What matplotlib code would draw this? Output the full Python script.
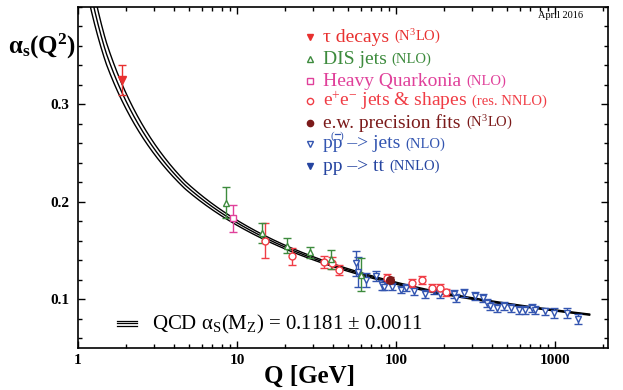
import numpy as np
import matplotlib
matplotlib.use("Agg")
import matplotlib.pyplot as plt
from matplotlib.ticker import MultipleLocator, LogLocator, NullFormatter, FixedLocator, FixedFormatter
from matplotlib.lines import Line2D

plt.rcParams['font.family'] = ['Liberation Serif', 'DejaVu Serif']
plt.rcParams['mathtext.fontset'] = 'custom'
plt.rcParams['mathtext.rm'] = 'Liberation Serif'
plt.rcParams['mathtext.it'] = 'Liberation Serif:italic'
plt.rcParams['mathtext.bf'] = 'Liberation Serif:bold'

# ---------------- data ----------------
tau_q = [1.88]
tau_a = [0.325]
tau_e = [0.015]

dis_q = [8.5, 14.4, 20.6, 28.6, 39.0, 60.0]
dis_a = [0.199, 0.168, 0.155, 0.148, 0.141, 0.125]
dis_e = [0.016, 0.010, 0.008, 0.006, 0.010, 0.017]

hq_q = [9.5]
hq_a = [0.183]
hq_e = [0.014]

ee_q = [15.0, 22.2, 35.0, 39.3, 44.0, 88.0, 126.0, 146.0, 168.0, 188.0, 205.0]
ee_a = [0.160, 0.144, 0.138, 0.137, 0.130, 0.122, 0.117, 0.120, 0.112, 0.112, 0.107]
ee_e = [0.018, 0.009, 0.006, 0.006, 0.005, 0.004, 0.004, 0.004, 0.004, 0.004, 0.004]

ew_q = [91.2]
ew_a = [0.1196]
ew_e = [0.003]

pp_q = [55.9, 58.0, 64.6, 75.3, 82.0, 84.0, 95.0, 107.0, 115.0, 130.0, 153.0, 190.0,
        231.0, 237.0, 266.0, 315.0, 355.0, 375.0, 390.0, 430.0, 475.0, 525.0, 590.0,
        650.0, 720.0, 750.0, 870.0, 985.0, 1190.0, 1400.0]
pp_a = [0.137, 0.128, 0.120, 0.124, 0.115, 0.113, 0.113, 0.110, 0.112, 0.108, 0.105, 0.105,
        0.105, 0.101, 0.1065, 0.103, 0.101, 0.096, 0.093, 0.091, 0.093, 0.091, 0.089,
        0.089, 0.091, 0.089, 0.0875, 0.086, 0.086, 0.080]
pp_e = [0.013, 0.015, 0.007, 0.005, 0.005, 0.004, 0.004, 0.004, 0.004, 0.004, 0.004, 0.004,
        0.004, 0.004, 0.004, 0.004, 0.004, 0.004, 0.004, 0.004, 0.004, 0.004, 0.004,
        0.004, 0.004, 0.004, 0.004, 0.005, 0.005, 0.005]

tt_q = [173.0]
tt_a = [0.108]
tt_e = [0.003]

# QCD band parameters (from the label)
alpha_mz = 0.1181
alpha_err = 0.0011
mz = 91.1876
mc, mb, mt = 1.5, 4.7, 173.0

x_ticks = [1, 10, 100, 1000]
x_ticklabels = ["1", "10", "100", "1000"]
y_ticks = [0.1, 0.2, 0.3]
y_ticklabels = ["0.1", "0.2", "0.3"]

# ---------------- QCD running (4-loop) ----------------
Z3 = 1.2020569

def nf_of(q):
    if q < mc:
        return 3
    if q < mb:
        return 4
    if q < mt:
        return 5
    return 6

def beta(a, nf):
    b0 = (33 - 2 * nf) / (12 * np.pi)
    b1 = (153 - 19 * nf) / (24 * np.pi ** 2)
    b2 = (2857 - 5033 / 9 * nf + 325 / 27 * nf ** 2) / (128 * np.pi ** 3)
    b3 = (149753 / 6 + 3564 * Z3 - (1078361 / 162 + 6508 / 27 * Z3) * nf
          + (50065 / 162 + 6472 / 81 * Z3) * nf ** 2 + 1093 / 729 * nf ** 3) / (256 * np.pi ** 4)
    return -a * a * (b0 + b1 * a + b2 * a * a + b3 * a ** 3)

def run(a0, lnq_grid):
    out = np.empty_like(lnq_grid)
    out[0] = a0
    a = a0
    for i in range(1, len(lnq_grid)):
        h = 2 * (lnq_grid[i] - lnq_grid[i - 1])
        q = np.exp(0.5 * (lnq_grid[i] + lnq_grid[i - 1]))
        nf = nf_of(q)
        k1 = beta(a, nf)
        k2 = beta(a + 0.5 * h * k1, nf)
        k3 = beta(a + 0.5 * h * k2, nf)
        k4 = beta(a + h * k3, nf)
        a = a + h / 6 * (k1 + 2 * k2 + 2 * k3 + k4)
        out[i] = a
    return out

lo = np.linspace(np.log(mz), np.log(1.12), 1500)
hi = np.linspace(np.log(mz), np.log(1650.0), 800)

fig = plt.figure(figsize=(6.23, 3.90), dpi=100)
ax = fig.add_axes([78 / 623, 1 - 348 / 390, 530 / 623, (348 - 6.8) / 390])

for a0 in (alpha_mz - alpha_err, alpha_mz, alpha_mz + alpha_err):
    al = run(a0, lo)
    ah = run(a0, hi)
    qq = np.concatenate([np.exp(lo[::-1]), np.exp(hi[1:])])
    aa = np.concatenate([al[::-1], ah[1:]])
    ax.plot(qq, aa, color='black', lw=1.0, zorder=2)

# ---------------- data points ----------------
c_tau = '#e8302f'
c_dis = '#3d8b3d'
c_hq = '#e0409a'
c_ee = '#f03c45'
c_ew = '#7b1a1a'
c_pp = '#3355b0'
c_tt = '#2544a0'

def eb(q, a, e, color, marker, filled, ms=5):
    ax.errorbar(q, a, yerr=e, fmt=marker, color=color, ecolor=color,
                mfc=color if filled else 'white', mec=color, ms=ms, mew=1.0,
                elinewidth=1.0, capsize=3, capthick=1.0, zorder=3)

eb(pp_q, pp_a, pp_e, c_pp, 'v', False, 4.5)
eb(tt_q, tt_a, tt_e, c_tt, 'v', True, 5)
eb(ee_q, ee_a, ee_e, c_ee, 'o', False, 5)
eb(dis_q, dis_a, dis_e, c_dis, '^', False, 5)
eb(hq_q, hq_a, hq_e, c_hq, 's', False, 5)
eb(ew_q, ew_a, ew_e, c_ew, 'o', True, 5.5)
eb(tau_q, tau_a, tau_e, c_tau, 'v', True, 5.5)

# ---------------- axes formatting ----------------
ax.set_xscale('log')
ax.set_xlim(1, 10 ** (530 / 159.0))
ax.set_ylim(0.05, 0.40)
ax.xaxis.set_major_locator(FixedLocator(x_ticks))
ax.xaxis.set_major_formatter(FixedFormatter(x_ticklabels))
ax.xaxis.set_minor_locator(LogLocator(base=10, subs=np.arange(2, 10)))
ax.xaxis.set_minor_formatter(NullFormatter())
ax.yaxis.set_major_locator(FixedLocator(y_ticks))
ax.yaxis.set_major_formatter(FixedFormatter(y_ticklabels))
ax.yaxis.set_minor_locator(MultipleLocator(0.02))
ax.tick_params(which='both', direction='in', top=True, right=True, width=1.0)
ax.tick_params(which='major', length=5)
ax.tick_params(which='minor', length=3)
ax.tick_params(axis='x', which='major', pad=4, labelsize=11)
ax.tick_params(axis='y', which='major', pad=6, labelsize=11)
for lab in ax.get_xticklabels() + ax.get_yticklabels():
    lab.set_fontweight('bold')
for s in ax.spines.values():
    s.set_linewidth(1.2)

fig.text(310 / 623, 1 - 376 / 390, "Q [GeV]", fontsize=18, fontweight='bold',
         ha='center', va='center')
fig.text(8 / 623, 1 - 46 / 390, r"α$_{\mathbf{s}}$(Q$^{\mathbf{2}}$)", fontsize=18,
         fontweight='bold', ha='left', va='center')

fig.text(583 / 623, 1 - 15 / 390, "April 2016", fontsize=7.5, ha='right', va='center')

# ---------------- legend (manual) ----------------
legend_rows = [
    ("τ decays", "(N$^3$LO)", c_tau, 'v', True),
    ("DIS jets", "(NLO)", c_dis, '^', False),
    ("Heavy Quarkonia", "(NLO)", c_hq, 's', False),
    ("e$^{+}$e$^{-}$ jets & shapes", "(res. NNLO)", c_ee, 'o', False),
    ("e.w. precision fits", "(N$^3$LO)", c_ew, 'o', True),
    ("pp –> jets", "(NLO)", c_pp, 'v', False),
    ("pp –> tt", "(NNLO)", c_tt, 'v', True),
]
row_y = [37, 59, 81, 101, 123, 144, 166]
renderer = fig.canvas.get_renderer()
for i, ((main, paren, col, mk, filled), yy) in enumerate(zip(legend_rows, row_y)):
    fy = 1 - yy / 390
    fig.add_artist(Line2D([310 / 623], [fy], marker=mk, color=col,
                          mfc=col if filled else 'white', mec=col, ms=4.5, mew=1.0,
                          transform=fig.transFigure))
    t = fig.text(323 / 623, fy, main, fontsize=14, color=col, ha='left', va='center')
    bb = t.get_window_extent(renderer=renderer)
    fig.text((bb.x1 + 5) / 623, fy, paren, fontsize=10.5, color=col, ha='left',
             va='center')
    if i == 5:
        # "(-)" mark above the second p of p(p-bar)
        tp = fig.text(323 / 623, fy, "p", fontsize=14, color='none', ha='left', va='center')
        pw = tp.get_window_extent(renderer=renderer).width
        xc = (323 + 1.5 * pw) / 623
        fig.text(xc, 1 - (yy - 8) / 390, "(  )", fontsize=8, color=col,
                 ha='center', va='center')
        fig.add_artist(Line2D([xc - 2.5 / 623, xc + 2.5 / 623], [1 - (yy - 10) / 390] * 2,
                              color=col, lw=0.9, transform=fig.transFigure))

# ---------------- band label ----------------
for dy in (-2.5, 0, 2.5):
    fig.add_artist(Line2D([117 / 623, 137 / 623], [1 - (323 + dy) / 390] * 2,
                          color='black', lw=0.9, transform=fig.transFigure))
fig.text(152 / 623, 1 - 324 / 390,
         r"QCD α$_{\mathrm{S}}$(M$_{\mathrm{Z}}$) = 0.1181 ± 0.0011",
         fontsize=15, ha='left', va='center')

fig.savefig("out.png", dpi=100)
